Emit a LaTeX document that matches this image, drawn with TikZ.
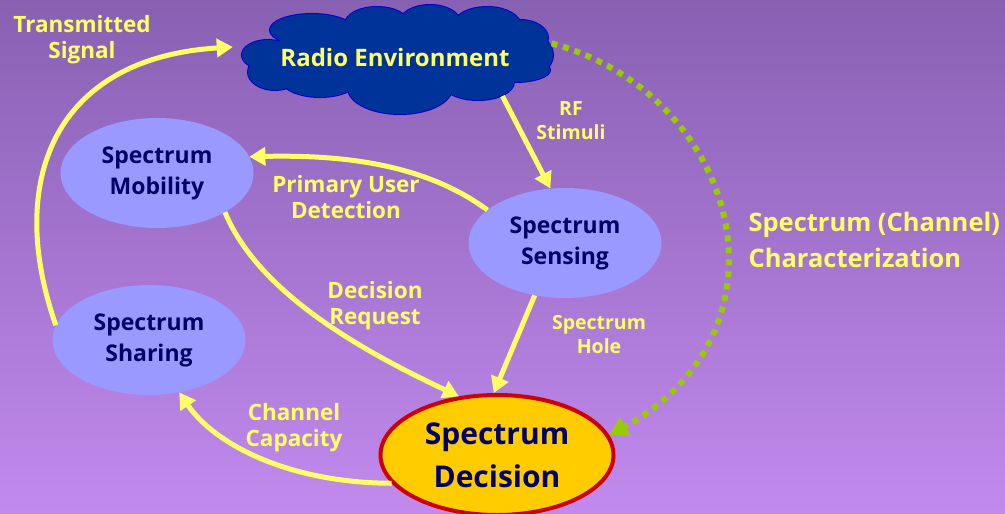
\documentclass[tikz,border=0pt]{standalone}
\usepackage{fontspec}
\setmainfont{Open Sans}
\usetikzlibrary{shapes.geometric,arrows.meta}
\definecolor{yel}{RGB}{255,255,102}
\definecolor{bgtop}{RGB}{136,96,178}
\definecolor{bgbot}{RGB}{194,138,238}
\definecolor{nodeblue}{RGB}{153,153,255}
\definecolor{navy}{RGB}{0,0,102}
\definecolor{cloudblue}{RGB}{0,51,153}
\definecolor{cloudedge}{RGB}{0,0,204}
\definecolor{gold}{RGB}{255,204,0}
\definecolor{decred}{RGB}{204,0,0}
\definecolor{grn}{RGB}{153,204,0}
\begin{document}
\begin{tikzpicture}[x=1pt,y=-1pt,
  bubble/.style={ellipse, fill=nodeblue, text=navy, minimum width=193pt, minimum height=110pt,
    inner sep=0pt, align=center, font=\bfseries\fontsize{23}{31}\selectfont},
  flow/.style={draw=yel, line width=5pt, -{Triangle[length=16pt,width=18pt]}},
  lbl/.style={text=yel, align=center, font=\bfseries\fontsize{22.5}{26}\selectfont},
  slbl/.style={text=yel, align=center, font=\bfseries\fontsize{19.5}{24}\selectfont}]
\useasboundingbox (0,0) rectangle (1005,514);
\shade[top color=bgtop, bottom color=bgbot] (0,0) rectangle (1005,514);

% cloud outline built from overlapping puffs
\def\puffs{312/30/42/16, 377/24/32/17, 430/22/30/17, 487/26/34/19, 520/38/28/18,
  525/55/28/22, 515/70/35/12, 478/82/36/18, 400/88/52/26, 320/80/38/17,
  275/72/27/18, 268/55/26/15, 395/55/125/35}
\foreach \cx/\cy/\rx/\ry in \puffs
  \draw[cloudedge, line width=2pt] (\cx,\cy) ellipse [x radius=\rx pt, y radius=\ry pt];
\foreach \cx/\cy/\rx/\ry in \puffs
  \fill[cloudblue] (\cx,\cy) ellipse [x radius=\rx pt, y radius=\ry pt];
\node[ellipse, inner sep=0pt, minimum width=322pt, minimum height=104pt, text=yel,
  font=\bfseries\fontsize{24}{26}\selectfont] (env) at (395,57) {Radio Environment};

\node[bubble] (mob) at (157,173) {Spectrum\\Mobility};
\node[bubble] (sens) at (565,243) {Spectrum\\Sensing};
\node[bubble] (shar) at (149,340) {Spectrum\\Sharing};
\node[ellipse, fill=gold, draw=decred, line width=4pt, minimum width=233pt, minimum height=120pt,
  inner sep=0pt, align=center, text=navy, font=\bfseries\fontsize{30}{43}\selectfont]
  (dec) at (497,455) {Spectrum\\Decision};

\draw[flow] (shar.171) .. controls (5,180) and (55,58) .. ([yshift=10pt]env.west);
\draw[flow] (env.-20) -- (sens.105);
\draw[flow] (sens.157) .. controls (420,160) and (330,155) .. (mob.10);
\draw[flow] (mob.-30) .. controls (258,292) and (360,350) .. (dec.123);
\draw[flow] (sens.-120) -- (dec.93);
\draw[flow] (dec.195) .. controls (290,483) and (215,445) .. (shar.-60);
\draw[grn, line width=6pt, dash pattern=on 6pt off 6pt, -{Triangle[length=18pt,width=20pt]}]
  (env.5) .. controls (740,95) and (800,330) .. (dec.10);

\node[lbl] (l1) at (82,40) {Transmitted\\Signal};
\node[slbl] (l2) at (571,121) {RF\\Stimuli};
\node[lbl] (l3) at (346,197) {Primary User\\Detection};
\node[lbl] (l4) at (375,306) {Decision\\Request};
\node[slbl] (l5) at (599,335) {Spectrum\\Hole};
\node[lbl] (l6) at (294,428) {Channel\\Capacity};
\node[text=yel, align=left, anchor=west, font=\bfseries\fontsize{25.5}{36}\selectfont]
  (l7) at (745,240) {Spectrum (Channel)\\Characterization};
\end{tikzpicture}
\end{document}
